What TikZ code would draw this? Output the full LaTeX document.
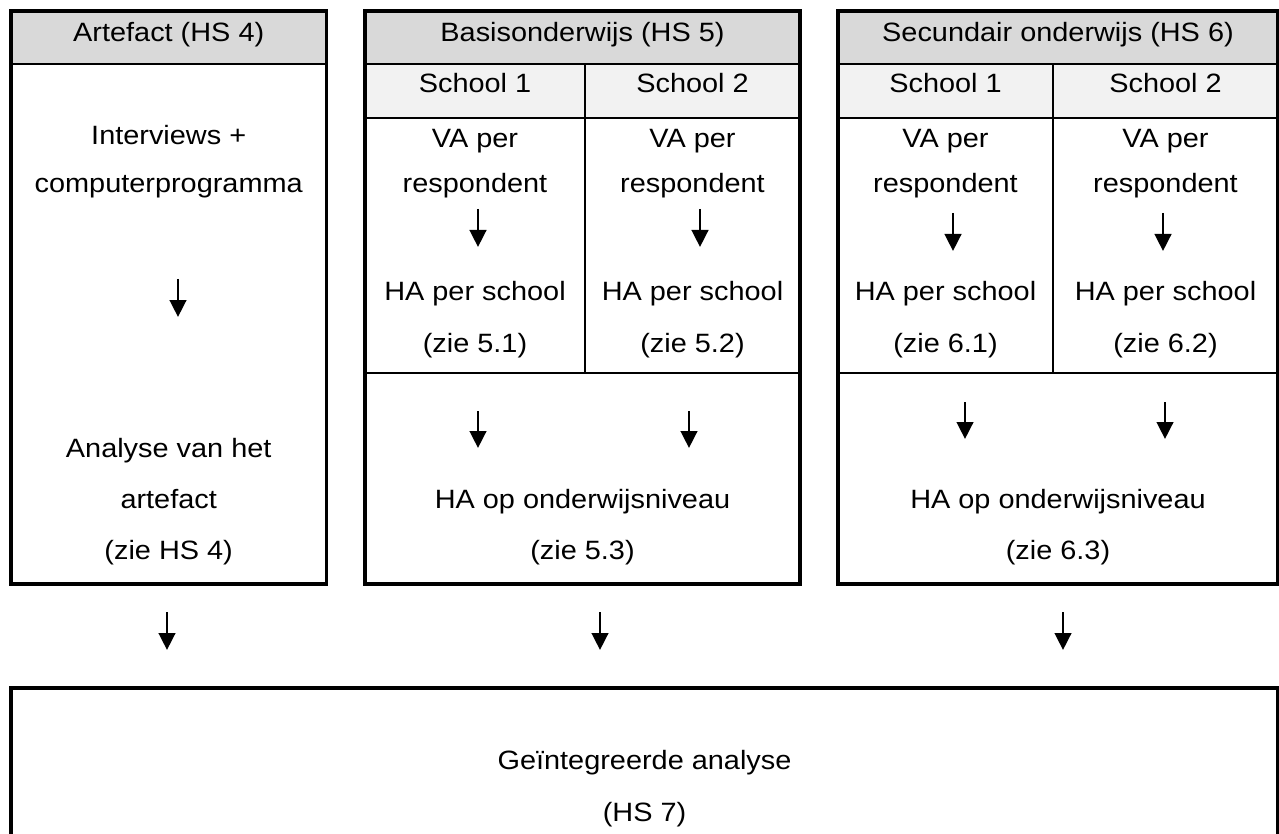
\documentclass[tikz,border=0pt]{standalone}
\usepackage{fontspec}
\setmainfont{Liberation Sans}[FakeStretch=1.09]
\usetikzlibrary{arrows.meta}
\definecolor{hdgray}{HTML}{D9D9D9}
\definecolor{scgray}{HTML}{F2F2F2}
\begin{document}
\begin{tikzpicture}[x=1pt,y=-1pt,
  outer/.style={line width=3.3pt},
  hline/.style={line width=2pt},
  inner/.style={line width=1.4pt},
  arr/.style={line width=2.8pt,-{Triangle[width=16.5pt,length=17pt]}},
  txt/.style={anchor=base,inner sep=0pt,font=\fontsize{26.5}{30}\selectfont}]
\useasboundingbox (0,0) rectangle (1279,834);
% fills
\fill[hdgray] (11,11) rectangle (326.5,64);
\fill[hdgray] (365,11) rectangle (800,64);
\fill[hdgray] (838,11) rectangle (1278,64);
\fill[scgray] (365,64) rectangle (800,118);
\fill[scgray] (838,64) rectangle (1278,118);
% internal lines
\draw[hline] (11,64) -- (326.5,64);
\draw[hline] (365,64) -- (800,64);
\draw[hline] (838,64) -- (1278,64);
\draw[inner] (365,118) -- (800,118);
\draw[inner] (838,118) -- (1278,118);
\draw[inner] (365,373) -- (800,373);
\draw[inner] (838,373) -- (1278,373);
\draw[inner] (585,64) -- (585,373);
\draw[inner] (1053,64) -- (1053,373);
% outer boxes
\draw[outer] (11,11) rectangle (326.5,584);
\draw[outer] (365,11) rectangle (800,584);
\draw[outer] (838,11) rectangle (1278,584);
\draw[outer] (11,845) -- (11,688) -- (1278,688) -- (1278,845);
% box 1 texts
\node[txt] (a0) at (168.7,42) {Artefact (HS 4)};
\node[txt] (a1) at (168.7,145) {Interviews +};
\node[txt] (a2) at (168.7,193) {computerprogramma};
\node[txt] (a3) at (168.7,457) {Analyse van het};
\node[txt] (a4) at (168.7,508) {artefact};
\node[txt] (a5) at (168.7,559) {(zie HS 4)};
% box 2 texts
\node[txt] (b0) at (582.5,42) {Basisonderwijs (HS 5)};
\node[txt] (b1) at (475,93) {School 1};
\node[txt] (b2) at (692.5,93) {School 2};
\node[txt] (b3) at (475,148) {VA per};
\node[txt] (b4) at (475,193) {respondent};
\node[txt] (b5) at (692.5,148) {VA per};
\node[txt] (b6) at (692.5,193) {respondent};
\node[txt] (b7) at (475,301) {HA per school};
\node[txt] (b8) at (475,352) {(zie 5.1)};
\node[txt] (b9) at (692.5,301) {HA per school};
\node[txt] (b10) at (692.5,352) {(zie 5.2)};
\node[txt] (b11) at (582.5,508) {HA op onderwijsniveau};
\node[txt] (b12) at (582.5,559) {(zie 5.3)};
% box 3 texts
\node[txt] (c0) at (1058,42) {Secundair onderwijs (HS 6)};
\node[txt] (c1) at (945.5,93) {School 1};
\node[txt] (c2) at (1165.5,93) {School 2};
\node[txt] (c3) at (945.5,148) {VA per};
\node[txt] (c4) at (945.5,193) {respondent};
\node[txt] (c5) at (1165.5,148) {VA per};
\node[txt] (c6) at (1165.5,193) {respondent};
\node[txt] (c7) at (945.5,301) {HA per school};
\node[txt] (c8) at (945.5,352) {(zie 6.1)};
\node[txt] (c9) at (1165.5,301) {HA per school};
\node[txt] (c10) at (1165.5,352) {(zie 6.2)};
\node[txt] (c11) at (1058,508) {HA op onderwijsniveau};
\node[txt] (c12) at (1058,559) {(zie 6.3)};
% bottom box texts
\node[txt] (d0) at (644.5,769) {Geïntegreerde analyse};
\node[txt] (d1) at (644.5,821) {(HS 7)};
% arrow endpoints
\coordinate (p1s) at (178,279); \coordinate (p1e) at (178,317);
\coordinate (p2s) at (478,209); \coordinate (p2e) at (478,247);
\coordinate (p3s) at (700,209); \coordinate (p3e) at (700,247);
\coordinate (p4s) at (953,213); \coordinate (p4e) at (953,251);
\coordinate (p5s) at (1163,213); \coordinate (p5e) at (1163,251);
\coordinate (p6s) at (478,411); \coordinate (p6e) at (478,448);
\coordinate (p7s) at (689,411); \coordinate (p7e) at (689,448);
\coordinate (p8s) at (965,402); \coordinate (p8e) at (965,439);
\coordinate (p9s) at (1165,402); \coordinate (p9e) at (1165,439);
\coordinate (q1s) at (167,612); \coordinate (q1e) at (167,650);
\coordinate (q2s) at (600,612); \coordinate (q2e) at (600,650);
\coordinate (q3s) at (1063,612); \coordinate (q3e) at (1063,650);
\foreach \n in {p1,p2,p3,p4,p5,p6,p7,p8,p9,q1,q2,q3}
  \draw[arr] (\n s) -- (\n e);
\end{tikzpicture}
\end{document}
